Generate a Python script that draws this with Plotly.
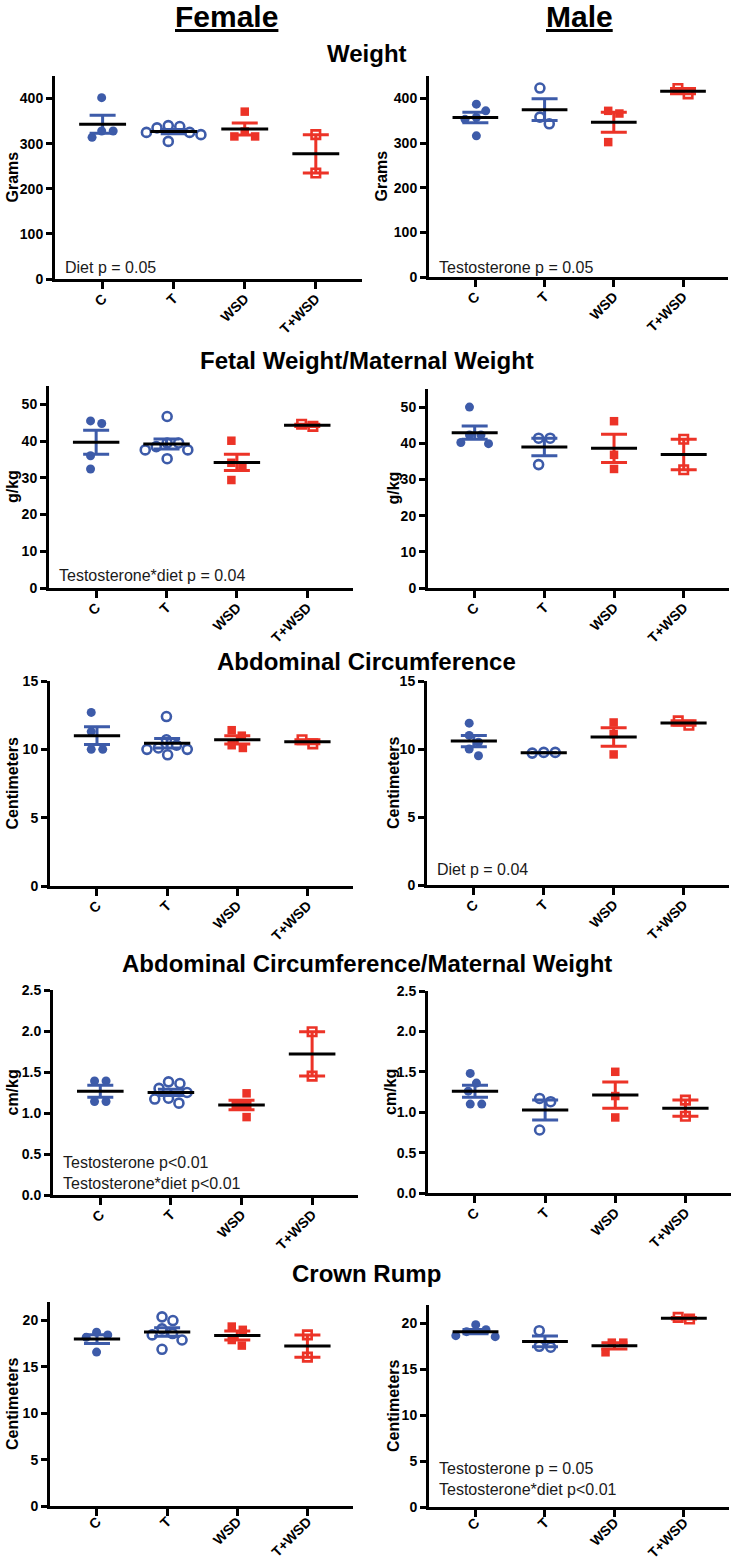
import numpy as np
import plotly.graph_objects as go

W, H = 733, 1562
GROUPS = ["C", "T", "WSD", "T+WSD"]

# ---------------- data ----------------
# Weight (Grams)
weight_f_C = [402, 328, 328, 314]
weight_f_T = [325, 340, 335, 305, 325, 338, 320]
weight_f_WSD = [371, 327, 316, 316]
weight_f_TWSD = [320, 235]
weight_m_C = [387, 372, 357, 353, 316]
weight_m_T = [423, 358, 343]
weight_m_WSD = [372, 366, 302]
weight_m_TWSD = [422, 410]

# Fetal weight / maternal weight (g/kg)
fwmw_f_C = [44.8, 45.5, 36.0, 32.4]
fwmw_f_T = [46.7, 39.5, 39.5, 37.6, 37.6, 35.2, 38.5]
fwmw_f_WSD = [40.1, 34.1, 33.2, 29.4]
fwmw_f_TWSD = [44.0, 44.6]
fwmw_m_C = [50.0, 42.3, 42.3, 39.9, 40.2]
fwmw_m_T = [41.4, 41.4, 34.1]
fwmw_m_WSD = [46.1, 36.8, 32.9]
fwmw_m_TWSD = [41.1, 32.7]

# Abdominal circumference (Centimeters)
ac_f_C = [12.7, 10.0, 10.0, 11.3]
ac_f_T = [12.4, 10.7, 10.3, 10.0, 10.1, 9.6, 10.0]
ac_f_WSD = [11.4, 11.0, 10.1, 10.3]
ac_f_TWSD = [10.4, 10.7]
ac_m_C = [11.9, 11.0, 10.5, 10.0, 9.5]
ac_m_T = [9.75, 9.7, 9.75]
ac_m_WSD = [11.95, 11.1, 9.6]
ac_m_TWSD = [11.75, 12.07]

# Abdominal circumference / maternal weight (cm/kg)
acmw_f_C = [1.39, 1.39, 1.14, 1.14]
acmw_f_T = [1.36, 1.38, 1.30, 1.25, 1.17, 1.12, 1.18]
acmw_f_WSD = [1.24, 1.10, 1.10, 0.95]
acmw_f_TWSD = [1.99, 1.45]
acmw_m_C = [1.48, 1.36, 1.26, 1.10, 1.10]
acmw_m_T = [1.17, 1.13, 0.78]
acmw_m_WSD = [1.50, 1.20, 0.935]
acmw_m_TWSD = [1.15, 0.95]

# Crown rump (Centimeters)
cr_f_C = [18.45, 18.74, 18.2, 16.6]
cr_f_T = [20.4, 20.0, 19.1, 18.6, 18.45, 17.9, 16.9]
cr_f_WSD = [19.35, 19.0, 17.3, 17.9]
cr_f_TWSD = [18.45, 16.05]
cr_m_C = [19.86, 19.1, 18.55, 18.66, 19.3]
cr_m_T = [19.2, 17.5, 17.4]
cr_m_WSD = [17.9, 17.9, 16.85]
cr_m_TWSD = [20.47, 20.65]

ROW_TITLES = ["Weight", "Fetal Weight/Maternal Weight", "Abdominal Circumference",
              "Abdominal Circumference/Maternal Weight", "Crown Rump"]
Y_TITLES = ["Grams", "g/kg", "Centimeters", "cm/kg", "Centimeters"]
Y_TICKS = [[0, 100, 200, 300, 400], [0, 10, 20, 30, 40, 50], [0, 5, 10, 15],
           [0, 0.5, 1.0, 1.5, 2.0, 2.5], [0, 5, 10, 15, 20]]
Y_RANGES = [[0, 450], [0, 55], [0, 15], [0, 2.5], [0, 22]]
Y_FORMATS = ["d", "d", "d", ".1f", "d"]

FEMALE_DATA = [
    [weight_f_C, weight_f_T, weight_f_WSD, weight_f_TWSD],
    [fwmw_f_C, fwmw_f_T, fwmw_f_WSD, fwmw_f_TWSD],
    [ac_f_C, ac_f_T, ac_f_WSD, ac_f_TWSD],
    [acmw_f_C, acmw_f_T, acmw_f_WSD, acmw_f_TWSD],
    [cr_f_C, cr_f_T, cr_f_WSD, cr_f_TWSD],
]
MALE_DATA = [
    [weight_m_C, weight_m_T, weight_m_WSD, weight_m_TWSD],
    [fwmw_m_C, fwmw_m_T, fwmw_m_WSD, fwmw_m_TWSD],
    [ac_m_C, ac_m_T, ac_m_WSD, ac_m_TWSD],
    [acmw_m_C, acmw_m_T, acmw_m_WSD, acmw_m_TWSD],
    [cr_m_C, cr_m_T, cr_m_WSD, cr_m_TWSD],
]
FEMALE_NOTES = ["Diet p = 0.05", "Testosterone*diet p = 0.04", "",
                "Testosterone p<0.01<br>Testosterone*diet p<0.01", ""]
MALE_NOTES = ["Testosterone p = 0.05", "", "Diet p = 0.04", "",
              "Testosterone p = 0.05<br>Testosterone*diet p<0.01"]

# ---------------- styling / layout (pixels) ----------------
BLUE = "#3D5BA9"
RED = "#EC3327"
COLORS = [BLUE, BLUE, RED, RED]
SYMBOLS = ["circle", "circle-open", "square", "square-open"]
SIZES = [9, 9, 8.5, 8.5]
FONT = "Liberation Sans, Arial, Helvetica, sans-serif"
X_RANGE = [-0.67, 3.65]

# (left, right, top, bottom) of each plot box, in pixels
F_BOX = [(55, 362, 76, 279), (49, 353, 386, 588), (50, 353, 681, 886),
         (53, 358, 990, 1195), (50, 353, 1302, 1506)]
M_BOX = [(429, 728, 76, 277), (428, 729, 389, 588), (427, 729, 681, 885),
         (428, 731, 991, 1193), (429, 729, 1305, 1507)]
ROW_TITLE_Y = [53, 360, 661, 963, 1273]
ROW_LABEL_STANDOFF = [-4, -4, -4, -4, -8]
F_YTITLE_X = [12, 12, 12, 12, 12]
M_YTITLE_X = [381, 393, 393, 390, 393]
F_NOTE_DY = [12, 13, 0, 22, 0]
M_NOTE_DY = [10, 0, 16, 0, 28]

DIAM = 11.5  # px spacing between swarm points


def swarm(values, px_per_unit, diam=DIAM):
    vals = np.asarray(values, dtype=float)
    ys = vals * px_per_unit
    order = np.argsort(-vals, kind="stable")
    placed = []
    offs = np.zeros(len(vals))
    for i in order:
        y = ys[i]
        cands = [0.0]
        for xj, yj in placed:
            dy = abs(y - yj)
            if dy < diam:
                dx = np.sqrt(diam ** 2 - dy ** 2)
                cands += [xj + dx, xj - dx]
        valid = [c for c in cands
                 if all((c - xj) ** 2 + (y - yj) ** 2 >= diam ** 2 - 1e-6 for xj, yj in placed)]
        best = min(valid, key=lambda c: (round(abs(c), 6), -c))
        offs[i] = best
        placed.append((best, y))
    if len(offs):
        offs -= (offs.max() + offs.min()) / 2.0
    return offs


fig = go.Figure()
annotations = []
layout_axes = {}
x_axis_rows = {}


def px_x(p):
    return p / W


def px_y(p):
    return 1 - p / H


panel = 0
for r in range(5):
    for side, box, data, note, note_dy, ytx in (
        ("f", F_BOX[r], FEMALE_DATA[r], FEMALE_NOTES[r], F_NOTE_DY[r], F_YTITLE_X[r]),
        ("m", M_BOX[r], MALE_DATA[r], MALE_NOTES[r], M_NOTE_DY[r], M_YTITLE_X[r]),
    ):
        panel += 1
        xa = "x" if panel == 1 else f"x{panel}"
        ya = "y" if panel == 1 else f"y{panel}"
        left, right, top, bottom = box
        yr = Y_RANGES[r]
        px_per_unit = (bottom - top) / (yr[1] - yr[0])
        px_per_cat = (right - left) / (X_RANGE[1] - X_RANGE[0])

        # points
        for g, vals in enumerate(data):
            offs = swarm(vals, px_per_unit)
            xs = g + offs / px_per_cat
            col = COLORS[g]
            open_sym = SYMBOLS[g].endswith("open")
            fig.add_trace(go.Scatter(
                x=xs, y=vals, xaxis=xa, yaxis=ya, mode="markers", showlegend=False,
                marker=dict(symbol=SYMBOLS[g], size=SIZES[g], color=col,
                            line=dict(width=2.6 if open_sym else 0, color=col)),
                hoverinfo="skip"))
        # SEM bars
        for g, vals in enumerate(data):
            v = np.asarray(vals, dtype=float)
            m = v.mean()
            sem = v.std(ddof=1) / np.sqrt(len(v))
            fig.add_trace(go.Scatter(
                x=[g], y=[m], xaxis=xa, yaxis=ya, mode="markers", showlegend=False,
                marker=dict(size=1, color="rgba(0,0,0,0)"),
                error_y=dict(type="data", array=[sem], color=COLORS[g], thickness=3, width=13),
                hoverinfo="skip"))
        # mean lines
        mx, my = [], []
        for g, vals in enumerate(data):
            m = float(np.mean(vals))
            mx += [g - 0.33, g + 0.33, None]
            my += [m, m, None]
        fig.add_trace(go.Scatter(x=mx, y=my, xaxis=xa, yaxis=ya, mode="lines",
                                 line=dict(color="black", width=3), showlegend=False,
                                 hoverinfo="skip"))

        axis_common = dict(showgrid=False, zeroline=False, showline=True, linecolor="black",
                           linewidth=3, ticks="outside", tickwidth=3, tickcolor="black",
                           automargin=False, fixedrange=True)
        xkey = "xaxis" if panel == 1 else f"xaxis{panel}"
        x_axis_rows[xkey] = r
        layout_axes[xkey] = dict(
            axis_common, domain=[px_x(left), px_x(right)], range=X_RANGE,
            anchor=ya, tickmode="array", tickvals=list(range(4)), ticktext=GROUPS,
            tickangle=-45, ticklen=7,
            tickfont=dict(family=FONT, size=14, color="black", weight="bold"))
        layout_axes["yaxis" if panel == 1 else f"yaxis{panel}"] = dict(
            axis_common, domain=[px_y(bottom), px_y(top)], range=yr, anchor=xa,
            tickmode="array", tickvals=Y_TICKS[r], tickformat=Y_FORMATS[r], ticklen=6,
            tickfont=dict(family=FONT, size=14, color="black", weight="bold"))

        # y-axis title
        annotations.append(dict(
            text=Y_TITLES[r], xref="paper", yref="paper", x=px_x(ytx),
            y=px_y((top + bottom) / 2), xanchor="center", yanchor="middle",
            textangle=-90, showarrow=False,
            font=dict(family=FONT, size=16, color="black", weight="bold")))
        # statistics note
        if note:
            annotations.append(dict(
                text=note, xref="paper", yref="paper", x=px_x(left + 8),
                y=px_y(bottom - note_dy), xanchor="left", yanchor="middle",
                align="left", showarrow=False,
                font=dict(family=FONT, size=16, color="#1a1a1a")))

    annotations.append(dict(
        text=ROW_TITLES[r], xref="paper", yref="paper", x=0.5, y=px_y(ROW_TITLE_Y[r]),
        xanchor="center", yanchor="middle", showarrow=False,
        font=dict(family=FONT, size=24, color="black", weight="bold")))

for label, cx in (("Female", 226), ("Male", 579)):
    annotations.append(dict(
        text=label, xref="paper", yref="paper", x=px_x(cx), y=px_y(16),
        xanchor="center", yanchor="middle", showarrow=False,
        font=dict(family=FONT, size=30, color="black", weight="bold", lineposition="under")))

fig.update_layout(
    template="none",
    width=W, height=H, margin=dict(l=0, r=0, t=0, b=0, pad=0, autoexpand=False),
    autosize=False,
    font=dict(family=FONT, color="black"),
    paper_bgcolor="white", plot_bgcolor="white", showlegend=False,
    annotations=annotations, **layout_axes)

# pull the rotated category labels a little closer to the ticks
for xkey, r in x_axis_rows.items():
    try:
        fig.layout[xkey].ticklabelstandoff = ROW_LABEL_STANDOFF[r]
    except Exception:
        pass

fig.write_html(
    "out.html",
    config={"displayModeBar": False, "staticPlot": True},
    post_script="document.body.style.margin='0px';document.body.style.padding='0px';"
                "document.body.style.overflow='hidden';")
